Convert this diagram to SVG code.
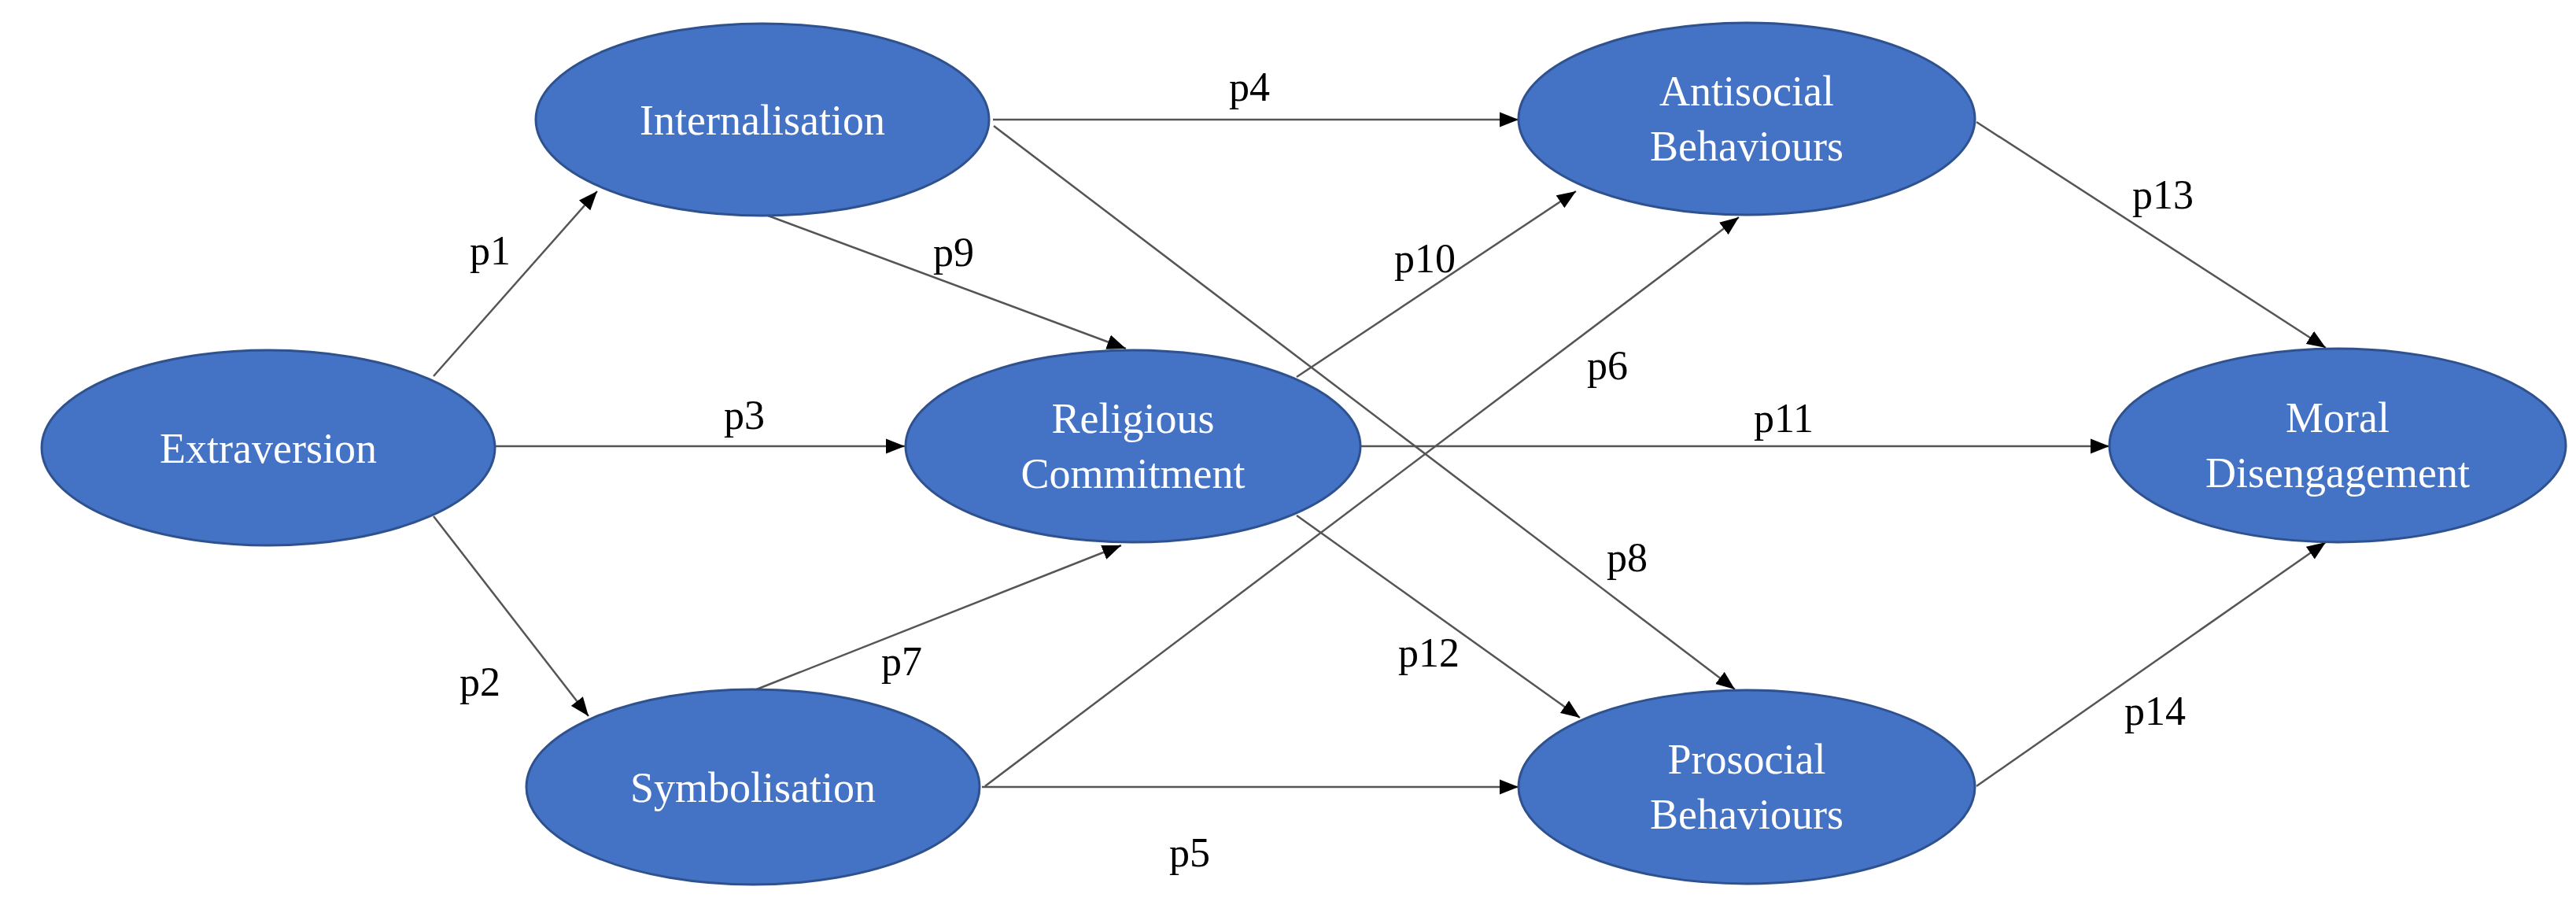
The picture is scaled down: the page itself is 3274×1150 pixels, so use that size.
<svg xmlns="http://www.w3.org/2000/svg" width="3274" height="1150" viewBox="0 0 3274 1150">
<style>
.n{fill:#4472C4;stroke:#2F528F;stroke-width:3}
.t{font-family:"Liberation Serif",serif;font-size:54px;fill:#fff;text-anchor:middle}
.l{font-family:"Liberation Serif",serif;font-size:52px;fill:#000;text-anchor:middle}
</style>
<defs>
<marker id="a2" viewBox="0 0 10 8" refX="10" refY="4" markerWidth="24" markerHeight="20" orient="auto" markerUnits="userSpaceOnUse"><path d="M0,0L10,4L0,8z" fill="#000"/></marker></defs>
<rect width="3274" height="1150" fill="#fff"/>
<g id="connectors">
<g marker-end="url(#a2)" stroke="#555" stroke-width="2.5" fill="none">
<line x1="551" y1="478" x2="759" y2="243"/>
<line x1="551" y1="656" x2="748" y2="910"/>
<line x1="630" y1="567" x2="1150" y2="567"/>
<line x1="976" y1="274" x2="1431" y2="443"/>
<line x1="959" y1="877" x2="1425" y2="693"/>
<line x1="1262" y1="152" x2="1930" y2="152"/>
<line x1="1248" y1="1000" x2="1930" y2="1000"/>
<line x1="1263" y1="160" x2="2205" y2="876"/>
<line x1="1252" y1="999" x2="2210" y2="276"/>
<line x1="1648" y1="479" x2="2003" y2="243"/>
<line x1="1648" y1="655" x2="2008" y2="912"/>
<line x1="1730" y1="567" x2="2681" y2="567"/>
<line x1="2512" y1="155" x2="2956" y2="442"/>
<line x1="2512" y1="999" x2="2956" y2="689"/>
</g>
<text class="l" x="623" y="336">p1</text>
<text class="l" x="610" y="884">p2</text>
<text class="l" x="946" y="545">p3</text>
<text class="l" x="1588" y="128">p4</text>
<text class="l" x="1512" y="1101">p5</text>
<text class="l" x="2043" y="482">p6</text>
<text class="l" x="1146" y="858">p7</text>
<text class="l" x="2068" y="726">p8</text>
<text class="l" x="1212" y="338">p9</text>
<text class="l" x="1811" y="346">p10</text>
<text class="l" x="2267" y="549">p11</text>
<text class="l" x="1816" y="847">p12</text>
<text class="l" x="2749" y="265">p13</text>
<text class="l" x="2739" y="921">p14</text>
</g>
<g id="extraversion"><ellipse class="n" cx="341" cy="569" rx="288" ry="124"/><text class="t" x="341" y="588">Extraversion</text></g>
<g id="internalisation"><ellipse class="n" cx="969" cy="152" rx="288" ry="122"/><text class="t" x="969" y="171">Internalisation</text></g>
<g id="religious"><ellipse class="n" cx="1440" cy="567" rx="289" ry="122"/><text class="t" x="1440" y="550">Religious</text><text class="t" x="1440" y="620">Commitment</text></g>
<g id="symbolisation"><ellipse class="n" cx="957" cy="1000" rx="288" ry="124"/><text class="t" x="957" y="1019">Symbolisation</text></g>
<g id="antisocial"><ellipse class="n" cx="2220" cy="151" rx="290" ry="122"/><text class="t" x="2220" y="134">Antisocial</text><text class="t" x="2220" y="204">Behaviours</text></g>
<g id="prosocial"><ellipse class="n" cx="2220" cy="1000" rx="290" ry="123"/><text class="t" x="2220" y="983">Prosocial</text><text class="t" x="2220" y="1053">Behaviours</text></g>
<g id="moral"><ellipse class="n" cx="2971" cy="566" rx="290" ry="123"/><text class="t" x="2971" y="549">Moral</text><text class="t" x="2971" y="619">Disengagement</text></g>
</svg>
